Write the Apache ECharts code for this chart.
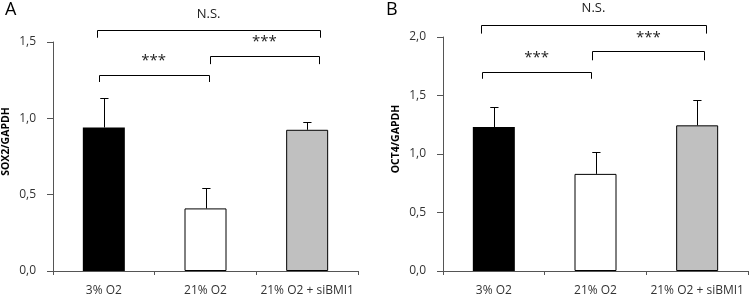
<!DOCTYPE html>
<html>
<head>
<meta charset="utf-8">
<script src="https://cdn.jsdelivr.net/npm/echarts@6/dist/echarts.min.js"></script>
<style>
  html, body { margin: 0; padding: 0; background: #fff; }
  #chart { width: 750px; height: 297px; }
</style>
</head>
<body>
<div id="chart"></div>
<script>
const categories = ['3% O2', '21% O2', '21% O2 + siBMI1']
const barColors = ['#000000', '#ffffff', '#c0c0c0']

const sox2Mean = [0.94, 0.41, 0.925]
const sox2Err = [0.19, 0.135, 0.05]
const oct4Mean = [1.23, 0.83, 1.245]
const oct4Err = [0.17, 0.19, 0.22]

// brackets: [from, to, y, drop end, text]
const sox2Brackets = [
  [-0.07, 2.13, 1.578, 1.528, 'N.S.'],
  [-0.05, 1.03, 1.284, 1.238, '***'],
  [1.04, 2.12, 1.409, 1.355, '***']
]
const oct4Brackets = [
  [-0.13, 2.09, 2.106, 2.029, 'N.S.'],
  [-0.12, 0.96, 1.699, 1.643, '***'],
  [0.97, 2.07, 1.878, 1.801, '***']
]

const chart = echarts.init(document.getElementById('chart'))
const font = 'Open Sans, sans-serif'

const grids = [
  { left: 52, right: 392, top: 42, bottom: 23 },
  { left: 443, right: 2, top: 37, bottom: 25 }
]

const panels = [
  { name: 'SOX2/GAPDH', max: 1.5, mean: sox2Mean, err: sox2Err, brackets: sox2Brackets },
  { name: 'OCT4/GAPDH', max: 2.0, mean: oct4Mean, err: oct4Err, brackets: oct4Brackets }
]

const xAxes = []
const yAxes = []
const series = []

panels.forEach((p, i) => {
  xAxes.push({
    type: 'category',
    gridIndex: i,
    data: categories,
    axisLine: { onZero: false, lineStyle: { color: '#555', width: 1 } },
    axisTick: { show: true, length: 4, lineStyle: { color: '#555' } },
    axisLabel: { interval: 0, color: '#333', fontSize: 12, fontFamily: font, margin: 14 }
  })
  xAxes.push({ type: 'value', gridIndex: i, min: -0.5, max: 2.5, show: false })

  yAxes.push({
    type: 'value',
    gridIndex: i,
    min: 0,
    max: p.max,
    interval: 0.5,
    name: p.name,
    nameLocation: 'middle',
    nameGap: 41,
    nameRotate: 90,
    nameTextStyle: {
      color: '#000', fontSize: 10.5, fontWeight: 'bold', fontFamily: font,
      padding: [0, 0, 0, 30]
    },
    axisLine: { show: true, onZero: false, lineStyle: { color: '#555', width: 1 } },
    axisTick: { show: true, length: 6, lineStyle: { color: '#555' } },
    axisLabel: {
      color: '#333', fontSize: 12, fontFamily: font, margin: 17,
      formatter: v => v.toFixed(1).replace('.', ',')
    },
    splitLine: { show: false }
  })

  series.push({
    type: 'bar',
    xAxisIndex: i * 2,
    yAxisIndex: i,
    barWidth: 42,
    silent: true,
    data: p.mean.map((v, k) => ({
      value: v,
      itemStyle: { color: barColors[k], borderColor: '#000', borderWidth: k === 0 ? 0 : 1 }
    }))
  })

  // upper error whiskers
  series.push({
    type: 'custom',
    xAxisIndex: i * 2,
    yAxisIndex: i,
    silent: true,
    z: 3,
    data: p.mean.map((v, k) => [k, v, p.err[k]]),
    renderItem: (params, api) => {
      const base = api.coord([api.value(0), api.value(1)])
      const top = api.coord([api.value(0), api.value(1) + api.value(2)])
      const x = Math.round(base[0]) + 0.5
      const y = Math.round(top[1]) + 0.5
      return {
        type: 'polyline',
        shape: { points: [[x, base[1]], [x, y], [x - 4, y], [x + 4, y]] },
        style: { stroke: '#000', lineWidth: 1, fill: null }
      }
    }
  })

  // significance brackets
  series.push({
    type: 'custom',
    xAxisIndex: i * 2 + 1,
    yAxisIndex: i,
    silent: true,
    clip: false,
    data: p.brackets.map(b => [b[0], b[1], b[2], b[3]]),
    renderItem: (params, api) => {
      const b = p.brackets[params.dataIndex]
      const a = api.coord([b[0], b[3]])
      const c = api.coord([b[0], b[2]])
      const d = api.coord([b[1], b[2]])
      const e = api.coord([b[1], b[3]])
      const r = v => Math.round(v) + 0.5
      const ns = b[4] === 'N.S.'
      return {
        type: 'group',
        children: [
          {
            type: 'polyline',
            shape: { points: [[r(a[0]), a[1]], [r(c[0]), r(c[1])], [r(d[0]), r(d[1])], [r(e[0]), e[1]]] },
            style: { stroke: '#000', lineWidth: 1, fill: null }
          },
          {
            type: 'text',
            x: (c[0] + d[0]) / 2,
            y: c[1] - (ns ? 16 : 14),
            style: {
              text: b[4], fill: '#222', fontSize: ns ? 13 : 15, fontFamily: font,
              align: 'center', verticalAlign: 'middle'
            }
          }
        ]
      }
    }
  })
})

chart.setOption({
  animation: false,
  backgroundColor: '#fff',
  grid: grids,
  xAxis: xAxes,
  yAxis: yAxes,
  series: series,
  graphic: [
    { type: 'text', left: 5, top: 1, style: { text: 'A', fontSize: 18, fill: '#000', fontFamily: font } },
    { type: 'text', left: 386, top: 1, style: { text: 'B', fontSize: 18, fill: '#000', fontFamily: font } }
  ]
})
</script>
</body>
</html>
